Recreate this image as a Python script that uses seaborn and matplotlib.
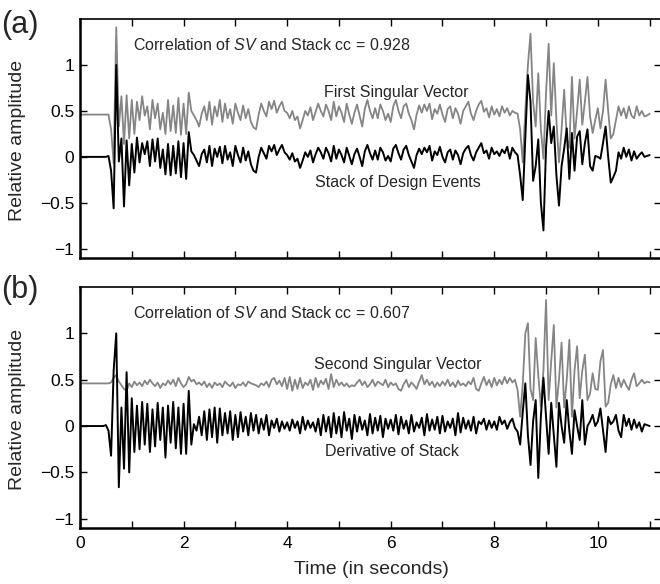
import numpy as np
import pandas as pd
import matplotlib
matplotlib.use("Agg")
import matplotlib.pyplot as plt
import seaborn as sns

# ---------------- data (dt = 0.05 s) ----------------
dt = 0.05

stack_a = [
    0, 0, 0, 0, 0, 0, 0, 0, 0, 0, 0, 0.01, -0.15, -0.56, 1.00, -0.05, 0.20, -0.54, 0.18, -0.31,
    0.14, -0.17, 0.21, -0.06, 0.15, 0.03, 0.17, -0.10, 0.19, -0.05, 0.20, -0.12, 0.08, -0.19, 0.14, -0.20, 0.12, -0.18, 0.17, -0.22,
    0.15, -0.24, 0.27, 0.06, 0.02, -0.04, -0.10, 0.03, 0.08, -0.06, 0.12, -0.10, 0.09, 0.00, 0.11, -0.07, 0.12, -0.03, 0.05, -0.10,
    0.12, 0.02, -0.06, 0.10, -0.04, 0.06, -0.08, -0.15, -0.17, 0.00, 0.10, 0.04, -0.02, 0.12, 0.06, 0.13, 0.02, 0.08, 0.13, 0.05,
    0.02, -0.03, 0.04, -0.05, -0.02, -0.12, -0.04, 0.05, 0.00, 0.07, -0.06, 0.03, 0.10, 0.05, -0.02, 0.10, 0.04, -0.05, 0.12, -0.02,
    0.08, 0.02, -0.06, 0.10, 0.01, -0.08, 0.03, 0.09, 0.00, -0.10, 0.06, 0.13, 0.04, -0.03, 0.07, -0.03, 0.10, 0.05, -0.04, 0.01,
    -0.05, 0.09, 0.13, 0.04, -0.03, 0.08, 0.12, 0.02, -0.05, -0.12, 0.02, 0.09, 0.03, 0.10, 0.05, 0.12, -0.04, 0.06, 0.02, 0.11,
    0.00, -0.06, 0.05, 0.08, -0.03, 0.07, 0.02, -0.08, 0.04, 0.09, 0.12, 0.02, -0.04, 0.05, 0.10, 0.15, 0.04, 0.07, -0.02, 0.10,
    0.03, 0.06, 0.01, 0.08, 0.04, 0.11, -0.02, 0.10, 0.05, 0.02, -0.20, -0.47, 0.20, 0.89, 0.60, -0.26, -0.10, 0.19, -0.50, -0.80,
    0.10, 0.50, 0.15, 0.33, -0.20, -0.53, -0.10, 0.09, 0.31, -0.24, 0.26, -0.15, 0.22, 0.28, -0.08, 0.15, 0.30, -0.10, -0.15, 0.01,
    0.00, -0.02, 0.15, 0.33, 0.00, -0.28, -0.22, -0.15, 0.05, -0.02, 0.10, 0.00, 0.08, -0.04, 0.06, -0.02, 0.02, 0.05, 0.00, 0.01,
    0.02,
]

sv1_a = [
    0.46, 0.46, 0.46, 0.46, 0.46, 0.46, 0.46, 0.46, 0.46, 0.46, 0.46, 0.46, 0.30, -0.07, 1.41, 0.33, 0.66, 0.14, 0.67, 0.20,
    0.62, 0.25, 0.60, 0.40, 0.66, 0.45, 0.55, 0.30, 0.62, 0.42, 0.58, 0.30, 0.48, 0.25, 0.62, 0.28, 0.56, 0.26, 0.64, 0.24,
    0.58, 0.25, 0.70, 0.50, 0.45, 0.40, 0.33, 0.47, 0.55, 0.40, 0.60, 0.35, 0.55, 0.44, 0.62, 0.38, 0.58, 0.42, 0.52, 0.36,
    0.58, 0.48, 0.40, 0.56, 0.42, 0.52, 0.38, 0.32, 0.30, 0.46, 0.58, 0.50, 0.44, 0.60, 0.52, 0.61, 0.48, 0.55, 0.60, 0.50,
    0.48, 0.42, 0.50, 0.40, 0.44, 0.31, 0.40, 0.50, 0.45, 0.54, 0.40, 0.49, 0.58, 0.50, 0.44, 0.57, 0.50, 0.40, 0.60, 0.44,
    0.55, 0.48, 0.38, 0.58, 0.46, 0.36, 0.48, 0.57, 0.45, 0.33, 0.52, 0.62, 0.50, 0.42, 0.53, 0.42, 0.57, 0.50, 0.40, 0.47,
    0.38, 0.55, 0.62, 0.50, 0.42, 0.55, 0.58, 0.47, 0.40, 0.30, 0.46, 0.56, 0.48, 0.57, 0.50, 0.58, 0.41, 0.52, 0.47, 0.57,
    0.46, 0.38, 0.52, 0.55, 0.42, 0.53, 0.47, 0.36, 0.50, 0.55, 0.60, 0.47, 0.40, 0.50, 0.57, 0.61, 0.49, 0.53, 0.43, 0.55,
    0.46, 0.52, 0.44, 0.55, 0.48, 0.53, 0.45, 0.50, 0.48, 0.47, 0.30, -0.06, 0.50, 1.00, 1.34, 0.60, 0.33, 0.91, 0.30, -0.02,
    0.70, 1.23, 0.45, 1.02, 0.40, -0.06, 0.30, 0.73, 0.20, 0.10, 0.87, 0.20, 0.50, 0.84, 0.35, 0.60, 0.87, 0.44, 0.26, 0.40,
    0.53, 0.31, 0.50, 0.84, 0.50, 0.20, 0.25, 0.40, 0.55, 0.45, 0.53, 0.42, 0.55, 0.45, 0.42, 0.55, 0.45, 0.50, 0.44, 0.45,
    0.47,
]

deriv_b = [
    0, 0, 0, 0, 0, 0, 0, 0, 0, 0, 0.01, -0.05, -0.32, 0.60, 1.00, -0.66, 0.20, -0.46, 0.58, -0.50,
    0.30, -0.28, 0.22, -0.25, 0.26, -0.20, 0.24, -0.28, 0.18, -0.22, 0.25, -0.15, 0.20, -0.34, 0.22, -0.18, 0.26, -0.24, 0.20, -0.30,
    0.24, -0.30, 0.38, -0.20, 0.02, -0.05, 0.10, -0.10, 0.16, -0.15, 0.18, -0.12, 0.20, -0.18, 0.19, -0.10, 0.14, -0.08, 0.16, -0.15,
    0.12, -0.12, 0.15, -0.06, 0.10, -0.10, 0.14, -0.05, 0.12, -0.08, 0.08, -0.04, 0.12, -0.10, 0.06, -0.02, 0.08, -0.06, 0.05, -0.03,
    0.04, -0.05, 0.07, -0.02, 0.05, -0.08, 0.10, -0.04, 0.06, -0.02, 0.04, -0.06, 0.08, -0.10, 0.12, -0.06, 0.10, -0.12, 0.14, -0.08,
    0.10, -0.12, 0.15, -0.05, 0.08, -0.14, 0.12, -0.06, 0.10, -0.04, 0.06, -0.10, 0.13, -0.08, 0.09, -0.05, 0.11, -0.12, 0.08, -0.03,
    0.07, -0.05, 0.12, -0.09, 0.10, -0.03, 0.06, -0.08, 0.12, -0.06, 0.04, -0.02, 0.09, -0.10, 0.13, -0.05, 0.07, -0.04, 0.10, -0.08,
    0.11, -0.06, 0.05, -0.02, 0.08, -0.10, 0.14, -0.07, 0.09, -0.03, 0.06, -0.05, 0.10, -0.08, 0.05, 0.02, 0.08, -0.04, 0.06, -0.02,
    0.05, -0.04, 0.10, 0.02, 0.06, -0.03, 0.04, 0.08, -0.02, -0.06, -0.20, 0.15, 0.46, -0.10, -0.42, 0.05, 0.28, -0.56, 0.10, 0.52,
    0.10, -0.30, 0.25, -0.10, -0.44, 0.25, 0.00, -0.18, 0.28, -0.05, -0.30, 0.17, 0.00, -0.15, 0.28, -0.20, 0.00, 0.05, 0.12, 0.00,
    0.05, 0.19, -0.05, -0.28, 0.10, 0.02, 0.05, 0.12, -0.05, -0.12, 0.12, 0.00, 0.08, -0.04, 0.07, -0.02, 0.04, -0.06, 0.02, 0.01,
    0.00,
]

sv2_b = [
    0.46, 0.46, 0.46, 0.46, 0.46, 0.46, 0.46, 0.46, 0.46, 0.46, 0.46, 0.46, 0.47, 0.52, 0.55, 0.48, 0.44, 0.40, 0.38, 0.46,
    0.42, 0.48, 0.44, 0.47, 0.43, 0.49, 0.45, 0.50, 0.46, 0.43, 0.47, 0.41, 0.46, 0.44, 0.49, 0.45, 0.50, 0.43, 0.52, 0.46,
    0.42, 0.45, 0.53, 0.48, 0.50, 0.45, 0.47, 0.44, 0.48, 0.42, 0.46, 0.41, 0.47, 0.44, 0.46, 0.42, 0.48, 0.45, 0.43, 0.47,
    0.41, 0.45, 0.44, 0.47, 0.43, 0.48, 0.46, 0.45, 0.44, 0.42, 0.46, 0.44, 0.48, 0.42, 0.50, 0.52, 0.45, 0.49, 0.43, 0.52,
    0.40, 0.53, 0.38, 0.50, 0.40, 0.52, 0.41, 0.47, 0.44, 0.50, 0.39, 0.52, 0.42, 0.49, 0.45, 0.51, 0.40, 0.56, 0.42, 0.50,
    0.44, 0.47, 0.43, 0.46, 0.42, 0.44, 0.43, 0.47, 0.50, 0.44, 0.48, 0.42, 0.45, 0.50, 0.43, 0.48, 0.46, 0.44, 0.50, 0.42,
    0.47, 0.44, 0.46, 0.40, 0.38, 0.45, 0.50, 0.42, 0.47, 0.44, 0.40, 0.48, 0.55, 0.45, 0.50, 0.44, 0.48, 0.42, 0.47, 0.43,
    0.48, 0.44, 0.50, 0.43, 0.47, 0.42, 0.49, 0.44, 0.46, 0.43, 0.48, 0.45, 0.52, 0.40, 0.38, 0.46, 0.53, 0.44, 0.50, 0.42,
    0.52, 0.44, 0.50, 0.45, 0.53, 0.46, 0.52, 0.47, 0.50, 0.39, 0.10, 0.45, 1.00, 1.11, 0.40, 0.28, 0.95, 0.55, 0.21, 0.60,
    1.36, 0.28, 0.70, 1.09, 0.20, 0.50, 0.90, 0.20, 0.50, 0.93, 0.10, 0.60, 0.86, 0.30, 0.60, 0.77, 0.28, 0.35, 0.57, 0.40,
    0.39, 0.70, 0.82, 0.21, 0.25, 0.45, 0.55, 0.41, 0.52, 0.42, 0.50, 0.44, 0.39, 0.50, 0.57, 0.43, 0.46, 0.50, 0.46, 0.48,
    0.47,
]

ytick_vals = [-1, -0.5, 0, 0.5, 1]
ytick_labels = ["\u22121", "\u22120.5", "0", "0.5", "1"]
xtick_labels = ["0", "2", "4", "6", "8", "10"]

panel_text = {
    "a": dict(cc="Correlation of $\\mathit{SV}$ and Stack cc = 0.928",
              sv_label="First Singular Vector", st_label="Stack of Design Events"),
    "b": dict(cc="Correlation of $\\mathit{SV}$ and Stack cc = 0.607",
              sv_label="Second Singular Vector", st_label="Derivative of Stack"),
}

t = np.arange(len(stack_a)) * dt

# ---------------- style ----------------
sns.set_style("ticks")
plt.rcParams["font.family"] = ["Liberation Sans", "DejaVu Sans"]
plt.rcParams["mathtext.fontset"] = "custom"
plt.rcParams["mathtext.it"] = "Liberation Sans:italic"
plt.rcParams["mathtext.rm"] = "Liberation Sans"

fig = plt.figure(figsize=(6.6, 5.84), dpi=100)
W, H = 660.0, 584.0
x_left, x_right = 80, 661
ax_a = fig.add_axes([x_left / W, 1 - 258 / H, (x_right - x_left) / W, (258 - 19) / H])
ax_b = fig.add_axes([x_left / W, 1 - 528 / H, (x_right - x_left) / W, (528 - 287) / H])

gray = "#858585"
fs_tick = 12.5
fs_text = 11.5

for ax, st, sv, key in [(ax_a, stack_a, sv1_a, "a"), (ax_b, deriv_b, sv2_b, "b")]:
    df = pd.DataFrame({"t": t, "sv": sv, "st": st})
    sns.lineplot(data=df, x="t", y="sv", ax=ax, color=gray, lw=1.3)
    sns.lineplot(data=df, x="t", y="st", ax=ax, color="black", lw=1.4)
    ax.set_xlim(0, 11.22)
    ax.set_ylim(-1.1, 1.5)
    ax.set_xlabel("")
    ax.set_ylabel("")
    ax.set_yticks(ytick_vals)
    ax.set_yticklabels(ytick_labels, fontsize=fs_tick)
    ax.set_xticks(np.arange(0, 12, 1))
    ax.tick_params(direction="in", length=5, width=1.0, top=True, right=True,
                   pad=4, colors="black")
    for side in ["left", "bottom"]:
        ax.spines[side].set_linewidth(1.8)
    for side in ["top", "right"]:
        ax.spines[side].set_linewidth(1.2)
        ax.spines[side].set_visible(True)
    for s in ax.spines.values():
        s.set_color("black")
    txt = panel_text[key]
    ax.text(1.02, 1.22, txt["cc"], fontsize=fs_text, ha="left", va="center")
    if key == "a":
        ax.text(6.1, 0.70, txt["sv_label"], fontsize=fs_text, ha="center", va="center")
        ax.text(6.13, -0.28, txt["st_label"], fontsize=fs_text, ha="center", va="center")
    else:
        ax.text(6.13, 0.66, txt["sv_label"], fontsize=fs_text, ha="center", va="center")
        ax.text(6.02, -0.28, txt["st_label"], fontsize=fs_text, ha="center", va="center")

ax_a.set_xticklabels([])
ax_b.set_xticklabels([xtick_labels[i // 2] if i % 2 == 0 else "" for i in range(12)],
                     fontsize=fs_tick)
ax_b.tick_params(axis="x", pad=6)

fig.text(17.5 / W, 1 - 140 / H, "Relative amplitude", rotation=90, ha="center", va="center", fontsize=14)
fig.text(17.5 / W, 1 - 409 / H, "Relative amplitude", rotation=90, ha="center", va="center", fontsize=14)
fig.text(371 / W, 1 - 570 / H, "Time (in seconds)", ha="center", va="center", fontsize=14)
fig.text(1 / W, 1 - 25 / H, "(a)", ha="left", va="center", fontsize=22)
fig.text(1 / W, 1 - 290 / H, "(b)", ha="left", va="center", fontsize=22)

fig.savefig("out.png", dpi=100)
